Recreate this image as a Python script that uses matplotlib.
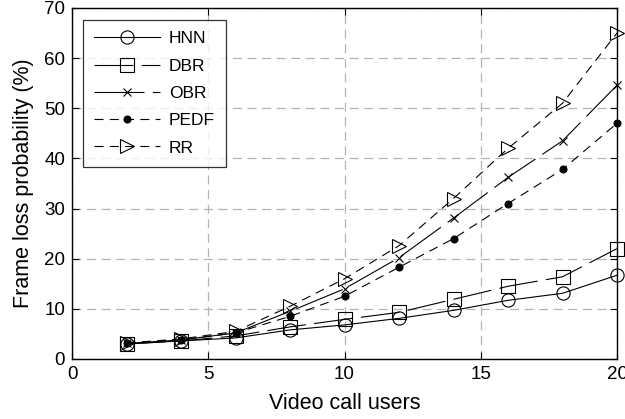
import matplotlib
matplotlib.use("Agg")
import matplotlib.pyplot as plt

users = [2, 4, 6, 8, 10, 12, 14, 16, 18, 20]
hnn = [3.0, 3.6, 4.2, 5.8, 6.8, 8.1, 9.7, 11.7, 13.1, 16.7]
dbr = [3.0, 3.6, 4.6, 6.4, 7.9, 9.3, 11.9, 14.5, 16.4, 22.0]
obr = [3.1, 3.8, 5.2, 9.5, 14.0, 20.2, 28.1, 36.2, 43.5, 54.6]
pedf = [3.2, 3.8, 5.2, 8.5, 12.5, 18.3, 24.0, 31.0, 37.8, 47.0]
rr = [3.2, 4.0, 5.5, 10.5, 16.0, 22.6, 32.0, 42.0, 51.0, 65.0]

labels = ["HNN", "DBR", "OBR", "PEDF", "RR"]
xticks = [0, 5, 10, 15, 20]
yticks = [0, 10, 20, 30, 40, 50, 60, 70]

plt.rcParams["font.family"] = ["Liberation Sans", "DejaVu Sans"]
plt.rcParams["lines.scale_dashes"] = False

fig = plt.figure(figsize=(6.25, 4.19), dpi=100)
ax = fig.add_axes([0.1152, 0.1432, 0.8720, 0.8378])

long_dash = (0, (28, 6))
longer_dash = (0, (36, 6))
dashed = (0, (6.5, 4.5))
styles = [
    dict(linestyle="-", marker="o", markerfacecolor="none", markersize=9.5),
    dict(linestyle=long_dash, marker="s", markerfacecolor="none", markersize=9.5),
    dict(linestyle=longer_dash, marker="x", markersize=6),
    dict(linestyle=dashed, marker="o", markerfacecolor="black", markersize=5),
    dict(linestyle=dashed, marker=">", markerfacecolor="none", markersize=10),
]
series = [hnn, dbr, obr, pedf, rr]
for vals, lab, st in zip(series, labels, styles):
    ax.plot(users, vals, color="black", linewidth=0.8, markeredgewidth=0.8,
            label=lab, clip_on=False, zorder=3, **st)

ax.set_xlim(0, 20)
ax.set_ylim(0, 70)
ax.set_xticks(xticks)
ax.set_yticks(yticks)
ax.grid(True, color="#b4b4b4", linestyle=(0, (6.5, 4)), linewidth=0.9)
ax.tick_params(direction="in", top=True, right=True, labelsize=13.5, length=5,
               width=0.8, pad=5)
for sp in ax.spines.values():
    sp.set_linewidth(1.0)

ax.set_xlabel("Video call users", fontsize=15.5, labelpad=7)
ax.set_ylabel("Frame loss probability (%)", fontsize=15.5, labelpad=7)

leg = ax.legend(loc="upper left", bbox_to_anchor=(0.02, 0.966), fontsize=12.5,
                frameon=True, fancybox=False, edgecolor="black", handlelength=3.8,
                labelspacing=0.7, borderpad=0.65, handletextpad=0.5,
                borderaxespad=0.0)
leg.get_frame().set_linewidth(0.9)

fig.savefig("out.png", dpi=100)
